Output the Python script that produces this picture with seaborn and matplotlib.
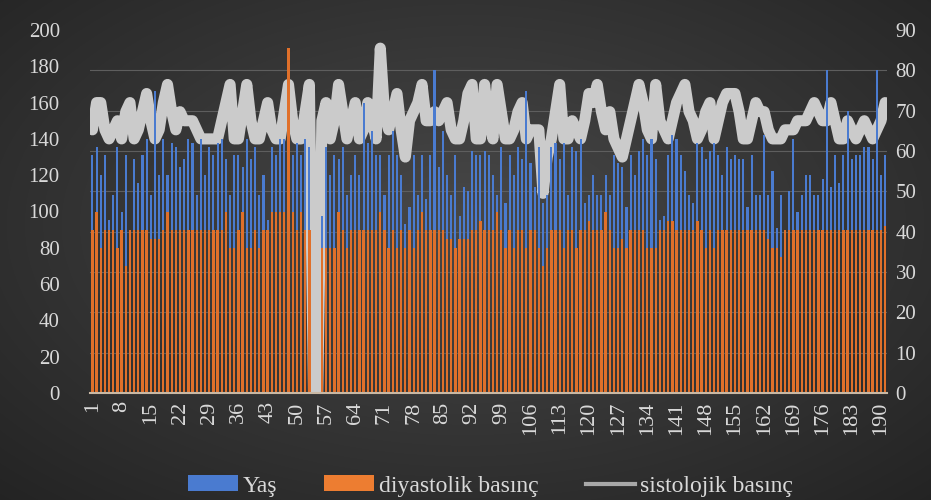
import numpy as np
import pandas as pd
import matplotlib
matplotlib.use('Agg')
import matplotlib.pyplot as plt
import seaborn as sns
from matplotlib.patches import Patch
from matplotlib.lines import Line2D

# hasta no
no = np.arange(1, 192)

# Yaş (sağ eksen)
yas = [59, 61, 54, 59, 43, 49, 61, 45, 59, 36, 58, 52, 59, 63, 49, 75, 54, 63, 54, 62,
       61, 56, 58, 63, 62, 49, 63, 54, 61, 59, 62, 63, 58, 49, 59, 59, 56, 63, 58, 61,
       49, 54, 43, 61, 59, 63, 63, 60, 59, 62, 59, 63, 61, 0, 0, 44, 61, 54, 59, 58,
       61, 49, 54, 59, 54, 72, 62, 65, 59, 59, 49, 59, 65, 59, 54, 42, 46, 59, 49, 59,
       48, 59, 80, 56, 65, 54, 49, 59, 44, 51, 50, 60, 59, 59, 60, 59, 54, 49, 61, 47,
       59, 54, 61, 58, 75, 57, 51, 61, 47, 49, 61, 62, 58, 62, 49, 61, 60, 63, 47, 49,
       54, 49, 49, 54, 49, 59, 57, 56, 46, 59, 54, 60, 63, 59, 63, 58, 43, 44, 59, 64,
       63, 59, 55, 49, 47, 62, 61, 58, 60, 62, 59, 54, 61, 58, 59, 58, 58, 46, 59, 49,
       49, 64, 49, 55, 41, 49, 38, 50, 63, 45, 49, 54, 54, 49, 49, 53, 80, 51, 59, 52,
       59, 70, 58, 59, 59, 61, 61, 58, 80, 54, 59]

# diyastolik basınç (sol eksen)
diyastolik = [90, 100, 80, 90, 90, 90, 80, 90, 70, 90, 90, 90, 90, 90, 85, 85, 85, 90, 100, 90,
              90, 90, 90, 90, 90, 90, 90, 90, 90, 90, 90, 90, 100, 80, 80, 90, 100, 80, 80, 90,
              80, 90, 90, 100, 100, 100, 100, 190, 100, 90, 100, 90, 90, 0, 0, 80, 80, 80, 80, 100,
              90, 80, 90, 90, 90, 90, 90, 90, 90, 100, 90, 80, 90, 80, 90, 80, 90, 80, 90, 100,
              90, 90, 90, 90, 90, 85, 85, 80, 85, 85, 85, 90, 90, 95, 90, 90, 90, 100, 90, 80,
              90, 80, 90, 90, 80, 90, 90, 80, 70, 80, 90, 90, 90, 80, 90, 90, 80, 90, 90, 95,
              90, 90, 90, 100, 90, 80, 80, 85, 80, 90, 90, 90, 90, 80, 80, 80, 90, 90, 95, 95,
              90, 90, 90, 90, 90, 95, 90, 80, 90, 80, 90, 90, 90, 90, 90, 90, 90, 90, 90, 90,
              90, 90, 85, 80, 80, 75, 90, 90, 90, 90, 90, 90, 90, 90, 90, 90, 90, 90, 90, 90,
              90, 90, 90, 90, 90, 90, 90, 90, 90, 90, 92]

# sistolojik basınç (sol eksen)
sistolik = [145, 160, 160, 145, 140, 145, 150, 140, 155, 160, 140, 145, 155, 165, 150, 140, 145, 160, 170, 155,
            145, 155, 150, 150, 150, 145, 140, 140, 140, 140, 140, 150, 160, 170, 140, 140, 155, 170, 150, 140,
            140, 150, 160, 145, 140, 140, 155, 170, 150, 140, 140, 155, 170, 0, 0, 150, 160, 140, 150, 170,
            155, 140, 150, 160, 140, 145, 160, 150, 140, 190, 155, 145, 155, 165, 145, 130, 150, 155, 160, 170,
            150, 150, 155, 150, 155, 160, 145, 140, 140, 150, 165, 170, 140, 140, 170, 150, 140, 170, 155, 140,
            140, 145, 155, 160, 140, 145, 145, 145, 110, 130, 140, 155, 170, 140, 140, 150, 145, 140, 150, 165,
            160, 170, 155, 145, 155, 140, 135, 130, 140, 150, 160, 170, 160, 145, 140, 170, 150, 145, 140, 150,
            160, 165, 170, 155, 150, 140, 145, 155, 160, 140, 150, 160, 165, 165, 165, 155, 140, 140, 150, 160,
            155, 155, 145, 140, 140, 140, 145, 145, 145, 150, 150, 150, 155, 160, 155, 150, 150, 160, 150, 140,
            140, 150, 145, 140, 145, 150, 145, 140, 145, 150, 160]

df = pd.DataFrame({'no': no, 'yas': yas, 'diyastolik': diyastolik, 'sistolik': sistolik})

serif = ['Liberation Serif', 'DejaVu Serif']
plt.rcParams['font.family'] = serif
txt = '#d9d9d9'

fig = plt.figure(figsize=(9.31, 5.0), dpi=100)

# koyu radyal arka plan
bg = fig.add_axes([0, 0, 1, 1], zorder=-10)
yy, xx = np.mgrid[0:1:500j, 0:1:931j]
r = np.sqrt(((xx - 0.5) / 0.75) ** 2 + ((yy - 0.45) / 0.8) ** 2)
r = np.clip(r, 0, 1)
c0 = np.array([0x48, 0x48, 0x48]) / 255
c1 = np.array([0x22, 0x22, 0x22]) / 255
img = c0[None, None, :] * (1 - r[..., None]) + c1[None, None, :] * r[..., None]
bg.imshow(img, aspect='auto', extent=[0, 1, 0, 1])
bg.axis('off')

ax = fig.add_axes([0.097, 0.214, 0.856, 0.726])
ax.set_facecolor('none')

# çizgi en altta
sns.lineplot(data=df, x='no', y='sistolik', ax=ax, color='#cbcbcb', lw=8,
             legend=False, solid_joinstyle='round', solid_capstyle='round')

ax2 = ax.twinx()
sns.barplot(data=df, x='no', y='yas', ax=ax2, color='#4a7bd0', native_scale=True,
            width=0.5, saturation=1, legend=False)

ax3 = ax.twinx()
sns.barplot(data=df, x='no', y='diyastolik', ax=ax3, color='#e0702a', native_scale=True,
            width=0.55, saturation=1, legend=False)

ax.set_ylim(0, 200)
ax2.set_ylim(0, 90)
ax3.set_ylim(0, 200)
ax.set_xlim(0.5, 191.5)

ax.set_yticks(range(0, 201, 20))
ax.set_yticks(np.linspace(0, 200, 10)[1:], minor=True)
ax.grid(False)
ax.grid(which='minor', axis='y', color='#5e5e5e', lw=0.8)
ax2.set_yticks(range(0, 91, 10))
ax3.set_yticks([])
ax2.grid(False)
ax3.grid(False)

ax.set_xticks(no[::7])
ax.set_xticklabels([str(v) for v in no[::7]], rotation=90)

for a in (ax, ax2, ax3):
    a.set_xlabel('')
    a.set_ylabel('')
    for s in a.spines.values():
        s.set_visible(False)
ax3.spines['bottom'].set_visible(True)
ax3.spines['bottom'].set_color('#c9b8a4')
ax3.spines['bottom'].set_linewidth(1.5)
ax3.tick_params(axis='x', bottom=False, labelbottom=False)
ax2.tick_params(axis='x', bottom=False, labelbottom=False)

ax.tick_params(axis='both', which='both', length=0, colors=txt, labelsize=15)
ax.tick_params(axis='x', labelsize=16, pad=6)
ax.tick_params(axis='y', pad=22)
ax2.tick_params(axis='y', length=0, colors=txt, labelsize=15, pad=6)

handles = [Patch(facecolor='#4a7bd0', edgecolor='none'),
           Patch(facecolor='#ed7d31', edgecolor='none'),
           Line2D([], [], color='#a8a8a8', lw=3)]
fig.legend(handles, ['Yaş', 'diyastolik basınç', 'sistolojik basınç'],
           loc='center', bbox_to_anchor=(0.527, 0.028), ncol=3, frameon=False,
           fontsize=17, labelcolor=txt, handlelength=2.1, handleheight=0.65,
           columnspacing=2.0, handletextpad=0.2)

plt.savefig('out.png', dpi=100, facecolor='#2a2a2a')
